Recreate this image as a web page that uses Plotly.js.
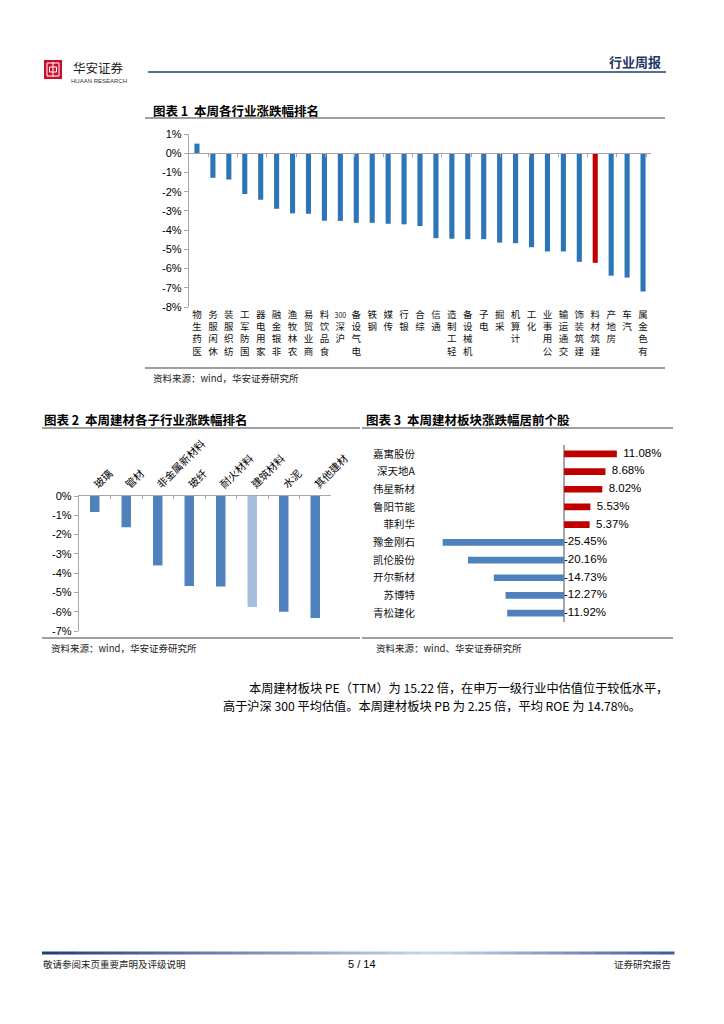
<!DOCTYPE html>
<html>
<head>
<meta charset="utf-8">
<script src="https://cdn.plot.ly/plotly-3.0.1.min.js"></script>
<style>
html,body{margin:0;padding:0;background:#fff;}
#chart{width:724px;height:1024px;}
</style>
</head>
<body>
<div id="chart"></div>
<script>
// ---------- DATA ----------
const industryNames = ['医药生物','休闲服务','纺织服装','国防军工','家用电器','非银金融','农林牧渔','商业贸易','食品饮料','沪深300','电气设备','钢铁','传媒','银行','综合','通信','轻工制造','机械设备','电子','采掘','计算机','化工','公用事业','交通运输','建筑装饰','建筑材料','房地产','汽车','有色金属'];
const industryChanges = [0.50,-1.28,-1.37,-2.12,-2.42,-2.89,-3.13,-3.15,-3.51,-3.52,-3.62,-3.62,-3.67,-3.70,-3.79,-4.42,-4.45,-4.47,-4.47,-4.65,-4.68,-4.89,-5.11,-5.11,-5.65,-5.70,-6.37,-6.47,-7.20];
const highlightIndustry = '建筑材料';

const subNames = ['玻璃','管材','非金属新材料','玻纤','耐火材料','建筑材料','水泥','其他建材'];
const subChanges = [-0.83,-1.62,-3.60,-4.67,-4.69,-5.75,-6.00,-6.32];
const highlightSub = '建筑材料';

const stockNames = ['嘉寓股份','深天地A','伟星新材','鲁阳节能','菲利华','豫金刚石','凯伦股份','开尔新材','苏博特','青松建化'];
const stockChanges = [11.08,8.68,8.02,5.53,5.37,-25.45,-20.16,-14.73,-12.27,-11.92];

const chart1Ticks = [1,0,-1,-2,-3,-4,-5,-6,-7,-8];
const chart1TickText = ['1%','0%','-1%','-2%','-3%','-4%','-5%','-6%','-7%','-8%'];
const chart2Ticks = [0,-1,-2,-3,-4,-5,-6,-7];
const chart2TickText = ['0%','-1%','-2%','-3%','-4%','-5%','-6%','-7%'];

// ---------- STYLE HELPERS ----------
const W = 724, H = 1024;
const px = x => x / W;
const py = y => 1 - y / H;
const CJK = 'Noto Sans CJK SC, sans-serif';
const LAT = 'Liberation Sans, Arial, Noto Sans CJK SC, sans-serif';
const BLUE1 = '#2E75B6', RED = '#C00000', BLUE2 = '#4F81BD', LIGHT2 = '#A7BFDE';
const AXC = '#A6A6A6';

// vertical stacked label (reads bottom-to-top like reference)
function stackLabel(s) {
  const m = s.match(/^(.*?)(\d+)$/);
  if (m) {
    const chars = m[1].split('').reverse();
    return '<span style="font-size:7px">' + m[2] + '</span><br>' + chars.join('<br>');
  }
  return s.split('').reverse().join('<br>');
}

// ---------- CHART 1 ----------
const y1dom = [py(307), py(134)];
const y1range = [-8, 1];
const zeroPos1 = y1dom[0] + (0 - y1range[0]) / (y1range[1] - y1range[0]) * (y1dom[1] - y1dom[0]);

const trace1 = {
  type: 'bar', x: industryNames, y: industryChanges, xaxis: 'x', yaxis: 'y',
  width: 0.32,
  marker: {color: industryNames.map(n => n === highlightIndustry ? RED : BLUE1)},
  hoverinfo: 'skip'
};
const trace1axis = {
  type: 'scatter', mode: 'markers', x: industryNames, y: industryChanges, xaxis: 'x4', yaxis: 'y',
  marker: {opacity: 0}, hoverinfo: 'skip', showlegend: false
};

// ---------- CHART 2 ----------
const trace2 = {
  type: 'bar', x: subNames, y: subChanges, xaxis: 'x2', yaxis: 'y2',
  width: 0.3,
  marker: {color: subNames.map(n => n === highlightSub ? LIGHT2 : BLUE2)},
  hoverinfo: 'skip'
};

// ---------- CHART 3 ----------
const trace3 = {
  type: 'bar', orientation: 'h', x: stockChanges, y: stockNames, xaxis: 'x3', yaxis: 'y3',
  width: 0.38,
  marker: {color: stockChanges.map(v => v >= 0 ? RED : BLUE2)},
  hoverinfo: 'skip'
};
const trace3text = {
  type: 'scatter', mode: 'text', xaxis: 'x3', yaxis: 'y3',
  x: stockChanges.map(v => Math.max(v, 0)), y: stockNames,
  text: stockChanges.map(v => (v >= 0 ? '\u00a0\u00a0' : '') + v.toFixed(2) + '%'),
  textposition: 'middle right',
  textfont: {family: LAT, size: 11.5, color: '#000'},
  cliponaxis: false, hoverinfo: 'skip'
};

// ---------- DECORATION ----------
const shapes = [];
function hline(x0, x1, y, color, w) {
  shapes.push({type: 'line', xref: 'paper', yref: 'paper', x0: px(x0), x1: px(x1), y0: py(y), y1: py(y), line: {color: color, width: w}});
}
// header
hline(148, 666, 72, '#1F3C74', 1.5);
shapes.push({type: 'rect', xref: 'paper', yref: 'paper', x0: px(44), x1: px(62), y0: py(79), y1: py(60), fillcolor: '#C8102E', line: {width: 0}});
shapes.push({type: 'rect', xref: 'paper', yref: 'paper', x0: px(47), x1: px(59), y0: py(76), y1: py(63), fillcolor: 'rgba(0,0,0,0)', line: {color: '#fff', width: 1}});
shapes.push({type: 'line', xref: 'paper', yref: 'paper', x0: px(53), x1: px(53), y0: py(77), y1: py(62), line: {color: '#fff', width: 1}});
shapes.push({type: 'rect', xref: 'paper', yref: 'paper', x0: px(49.5), x1: px(56.5), y0: py(72), y1: py(67), fillcolor: 'rgba(0,0,0,0)', line: {color: '#fff', width: 1}});
// chart frames
hline(145, 665, 118, '#404040', 1.2);
hline(145, 665, 368, '#404040', 1.2);
hline(42, 360, 428, '#404040', 1.2);
hline(42, 360, 638, '#404040', 1.2);
hline(362, 673, 428, '#404040', 1.2);
hline(362, 673, 638, '#404040', 1.2);
// footer gradient line
(function () {
  const x0 = 42, x1 = 674, n = 40;
  const c0 = [31, 60, 116], cm = [200, 216, 238], c1 = [60, 90, 150];
  for (let i = 0; i < n; i++) {
    const t = (i + 0.5) / n;
    let c;
    if (t < 0.62) { const u = t / 0.62; c = c0.map((v, k) => Math.round(v + (cm[k] - v) * u)); }
    else { const u = (t - 0.62) / 0.38; c = cm.map((v, k) => Math.round(v + (c1[k] - v) * u)); }
    shapes.push({type: 'line', xref: 'paper', yref: 'paper',
      x0: px(x0 + (x1 - x0) * i / n), x1: px(x0 + (x1 - x0) * (i + 1) / n + 0.5),
      y0: py(953), y1: py(953), line: {color: 'rgb(' + c.join(',') + ')', width: 3}});
  }
})();

const annotations = [];
function txt(text, x, y, anchor, size, opts) {
  opts = opts || {};
  annotations.push({
    text: text, xref: 'paper', yref: 'paper', x: px(x), y: py(y),
    xanchor: anchor, yanchor: 'middle', showarrow: false,
    font: {family: opts.family || CJK, size: size, color: opts.color || '#000', weight: opts.weight || 'normal'},
    borderpad: 0
  });
}
txt('华安证券', 72, 67, 'left', 12.5, {color: '#222'});
txt('HUAAN RESEARCH', 70, 81, 'left', 6, {family: LAT, color: '#333'});
txt('<b>行业周报</b>', 662, 61, 'right', 13, {color: '#1F3864'});

txt('<b>图表 1  本周各行业涨跌幅排名</b>', 152, 110, 'left', 12.5);
txt('资料来源：wind，华安证券研究所', 152, 378, 'left', 9.5, {color: '#222'});
txt('<b>图表 2  本周建材各子行业涨跌幅排名</b>', 43, 419, 'left', 12.5);
txt('资料来源：wind，华安证券研究所', 50, 648, 'left', 9.5, {color: '#222'});
txt('<b>图表 3  本周建材板块涨跌幅居前个股</b>', 365, 419, 'left', 12.5);
txt('资料来源：wind、华安证券研究所', 375, 648, 'left', 9.5, {color: '#222'});

txt('本周建材板块 PE（TTM）为 15.22 倍，在申万一级行业中估值位于较低水平，', 248, 688, 'left', 12.2);
txt('高于沪深 300 平均估值。本周建材板块 PB 为 2.25 倍，平均 ROE 为 14.78%。', 222, 706, 'left', 12.2);

txt('敬请参阅末页重要声明及评级说明', 42, 964, 'left', 9.5, {color: '#222'});
txt('5 / 14', 362, 964, 'center', 11, {family: LAT});
txt('证券研究报告', 672, 964, 'right', 9.5, {color: '#222'});

// ---------- LAYOUT ----------
const layout = {
  width: W, height: H,
  margin: {l: 0, r: 0, t: 0, b: 0},
  paper_bgcolor: '#fff', plot_bgcolor: 'rgba(0,0,0,0)',
  showlegend: false,
  font: {family: LAT, color: '#000'},
  xaxis: {
    domain: [px(189), px(651)], anchor: 'y', type: 'category',
    categoryarray: industryNames, categoryorder: 'array',
    showline: false, ticks: '', showgrid: false, zeroline: false,
    tickmode: 'array', tickvals: industryNames, ticktext: industryNames.map(stackLabel),
    tickangle: 0, tickfont: {family: CJK, size: 9.5, color: '#111'}
  },
  xaxis4: {
    overlaying: 'x', anchor: 'free', position: zeroPos1, type: 'category',
    categoryarray: industryNames, categoryorder: 'array',
    showline: true, linecolor: AXC, linewidth: 1.2,
    ticks: 'outside', tickson: 'boundaries', ticklen: 3, tickcolor: AXC,
    showticklabels: false, showgrid: false, zeroline: false
  },
  yaxis: {
    domain: y1dom, anchor: 'x', range: y1range,
    tickmode: 'array', tickvals: chart1Ticks, ticktext: chart1TickText,
    showline: true, linecolor: AXC, linewidth: 1.2, ticks: 'outside', ticklen: 4, tickcolor: AXC,
    showgrid: false, zeroline: false, tickfont: {family: LAT, size: 11, color: '#000'}
  },
  xaxis2: {
    domain: [px(79), px(331)], anchor: 'y2', side: 'top', type: 'category',
    categoryarray: subNames, categoryorder: 'array',
    showline: true, linecolor: AXC, linewidth: 1.2,
    ticks: 'inside', tickson: 'boundaries', ticklen: 3, tickcolor: AXC,
    showgrid: false, zeroline: false, tickangle: -45,
    tickfont: {family: CJK, size: 10.5, color: '#000'}
  },
  yaxis2: {
    domain: [py(631), py(496)], anchor: 'x2', range: [-7, 0],
    tickmode: 'array', tickvals: chart2Ticks, ticktext: chart2TickText,
    showline: true, linecolor: AXC, linewidth: 1.2, ticks: 'outside', ticklen: 4, tickcolor: AXC,
    showgrid: false, zeroline: false, tickfont: {family: LAT, size: 11, color: '#000'}
  },
  xaxis3: {
    domain: [px(421), px(659.4)], anchor: 'y3', range: [-30, 20],
    showticklabels: false, ticks: '', showline: false, showgrid: false,
    zeroline: true, zerolinecolor: AXC, zerolinewidth: 1.2
  },
  yaxis3: {
    domain: [py(622), py(445)], anchor: 'x3', type: 'category',
    categoryarray: stockNames, categoryorder: 'array', autorange: 'reversed',
    showline: false, ticks: '', showgrid: false, zeroline: false,
    ticklabelstandoff: 5,
    tickfont: {family: CJK, size: 10.5, color: '#111'}
  },
  shapes: shapes,
  annotations: annotations
};

Plotly.newPlot('chart', [trace1, trace1axis, trace2, trace3, trace3text], layout, {staticPlot: true, displayModeBar: false});
</script>
</body>
</html>
